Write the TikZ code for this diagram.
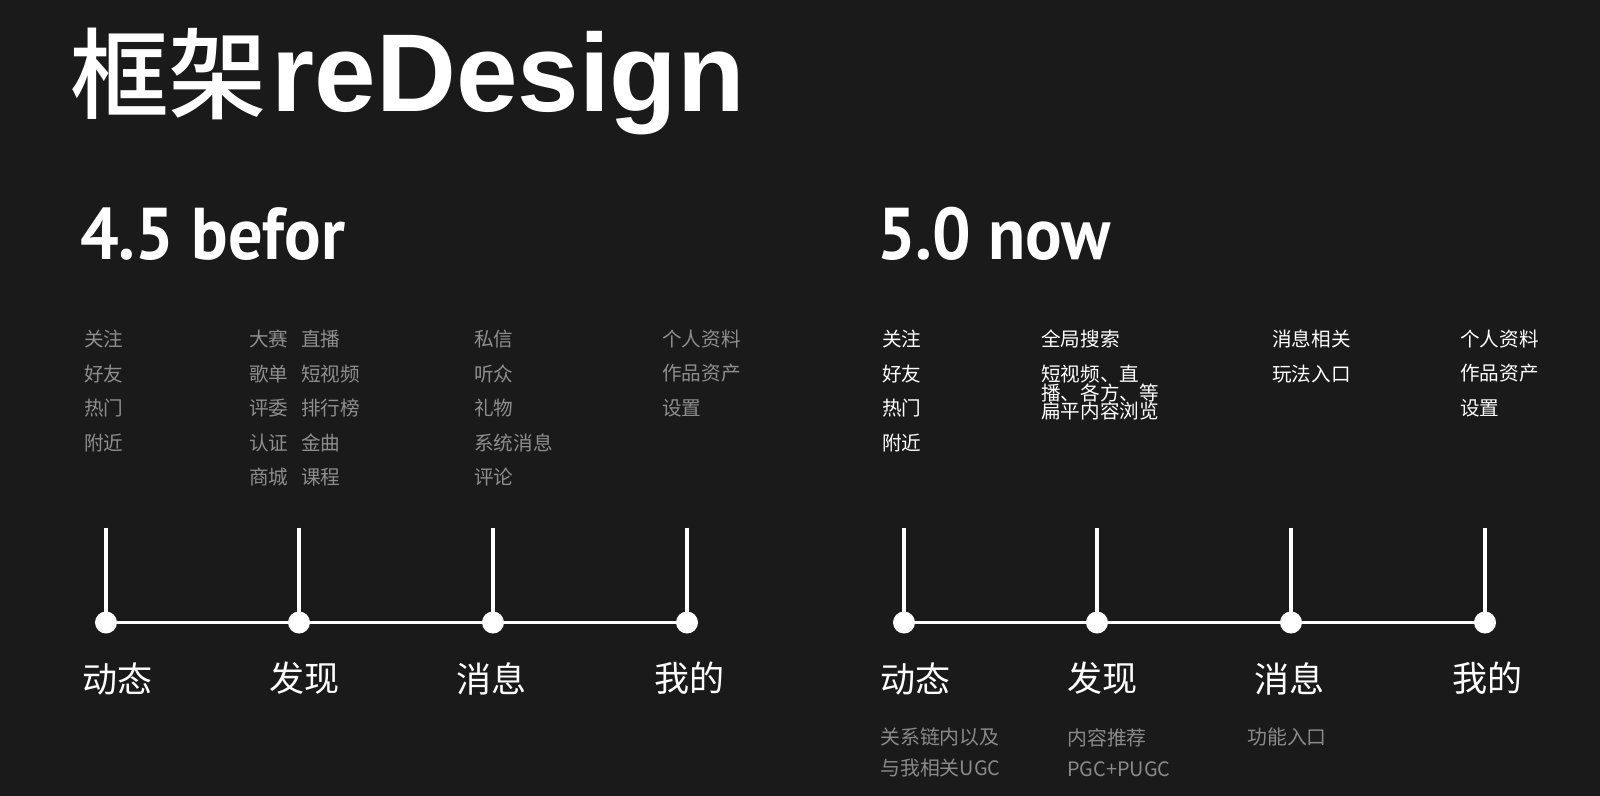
\documentclass[tikz,border=0pt]{standalone}
\usepackage{fontspec}
\setmainfont{Noto Sans CJK SC}
\newfontfamily\titlecjk{Noto Sans CJK SC Medium}
\newfontfamily\latinfont{Liberation Sans}
\newfontfamily\headfont[FakeStretch=0.93]{PT Sans}
\definecolor{my_bg}{HTML}{1A1A1A}
\definecolor{my_gray}{HTML}{8E8E8E}
\definecolor{my_notegray}{HTML}{8A8A8A}

\begin{document}
\begin{tikzpicture}[
    x=0.75pt, y=-0.75pt,
    dot/.style={circle, fill=white, inner sep=0pt, minimum size=16.5pt},
    rule/.style={white, line width=2.3pt},
    item/.style={anchor=west, inner sep=0pt, text=my_gray,
        font=\fontsize{14.7}{14}\selectfont},
    itemw/.style={item, text=white},
    tab/.style={anchor=west, inner sep=0pt, text=white,
        font=\fontsize{26.3}{30}\selectfont},
    note/.style={item, text=my_notegray, align=left,
        font=\fontsize{14.9}{23.6}\selectfont}
]

% background, 1600 x 796 px
\fill[my_bg] (0,0) rectangle (1600,796);
\useasboundingbox (0,0) rectangle (1600,796);

% Title and headings
\node[anchor=base west, inner sep=0pt, text=white] (title) at (70,111)
    {{\fontsize{74}{80}\selectfont\titlecjk 框架}\kern3pt
     {\fontsize{83}{80}\selectfont\latinfont\bfseries reDesign}};
\node[anchor=base west, inner sep=0pt, text=white,
    font=\fontsize{55}{60}\selectfont\headfont\bfseries] (old) at (80,259)
    {4.5 befor};
\node[anchor=base west, inner sep=0pt, text=white,
    font=\fontsize{55}{60}\selectfont\headfont\bfseries] (new) at (877,259)
    {5.0 now};

% 4.5: items above the line
\foreach \t [count=\i] in {关注,好友,热门,附近}
    \node[item] (p1-\i) at (84,{339+34.6*(\i-1)}) {\t};
\foreach \t [count=\i] in {大赛,歌单,评委,认证,商城}
    \node[item] (p2-\i) at (249,{339+34.6*(\i-1)}) {\t};
\foreach \t [count=\i] in {直播,短视频,排行榜,金曲,课程}
    \node[item] (p3-\i) at (301,{339+34.6*(\i-1)}) {\t};
\foreach \t [count=\i] in {私信,听众,礼物,系统消息,评论}
    \node[item] (p4-\i) at (474,{339+34.6*(\i-1)}) {\t};
\foreach \t [count=\i] in {个人资料,作品资产,设置}
    \node[item] (p5-\i) at (662,{339+34.6*(\i-1)}) {\t};

% 5.0: items above the line
\foreach \t [count=\i] in {关注,好友,热门,附近}
    \node[itemw] (q1-\i) at (882,{339+34.6*(\i-1)}) {\t};
\node[itemw] (q2-1) at (1041,339) {全局搜索};
\node[itemw, align=left, font=\fontsize{14.7}{13.9}\selectfont] (q2-2)
    at (1041,393) {短视频、直\\播、各方、等\\扁平内容浏览};
\foreach \t [count=\i] in {消息相关,玩法入口}
    \node[itemw] (q3-\i) at (1272,{339+34.6*(\i-1)}) {\t};
\foreach \t [count=\i] in {个人资料,作品资产,设置}
    \node[itemw] (q4-\i) at (1460,{339+34.6*(\i-1)}) {\t};

% timelines
\foreach \x [count=\i] in {106,299,493,687} {
    \coordinate (bt\i) at (\x,527.5);
    \node[dot] (b\i) at (\x,622.5) {};
    \draw[rule] (bt\i) -- (b\i.center);
}
\draw[rule] (b1.center) -- (b4.center);

\foreach \x [count=\i] in {904,1097,1291,1485} {
    \coordinate (nt\i) at (\x,527.5);
    \node[dot] (n\i) at (\x,622.5) {};
    \draw[rule] (nt\i) -- (n\i.center);
}
\draw[rule] (n1.center) -- (n4.center);

% tab labels
\foreach \t/\x [count=\i] in {动态/82,发现/269,消息/456,我的/654}
    \node[tab] (bl\i) at (\x,678.6) {\t};
\foreach \t/\x [count=\i] in {动态/880,发现/1067,消息/1254,我的/1452}
    \node[tab] (nl\i) at (\x,678.6) {\t};

% notes under the 5.0 tabs
\node[note] (m1) at (880,752.5) {关系链内以及\\与我相关UGC};
\node[note] (m2) at (1067,752.5) {内容推荐\\PGC+PUGC};
\node[note] (m3) at (1247,737) {功能入口};

\end{tikzpicture}
\end{document}
